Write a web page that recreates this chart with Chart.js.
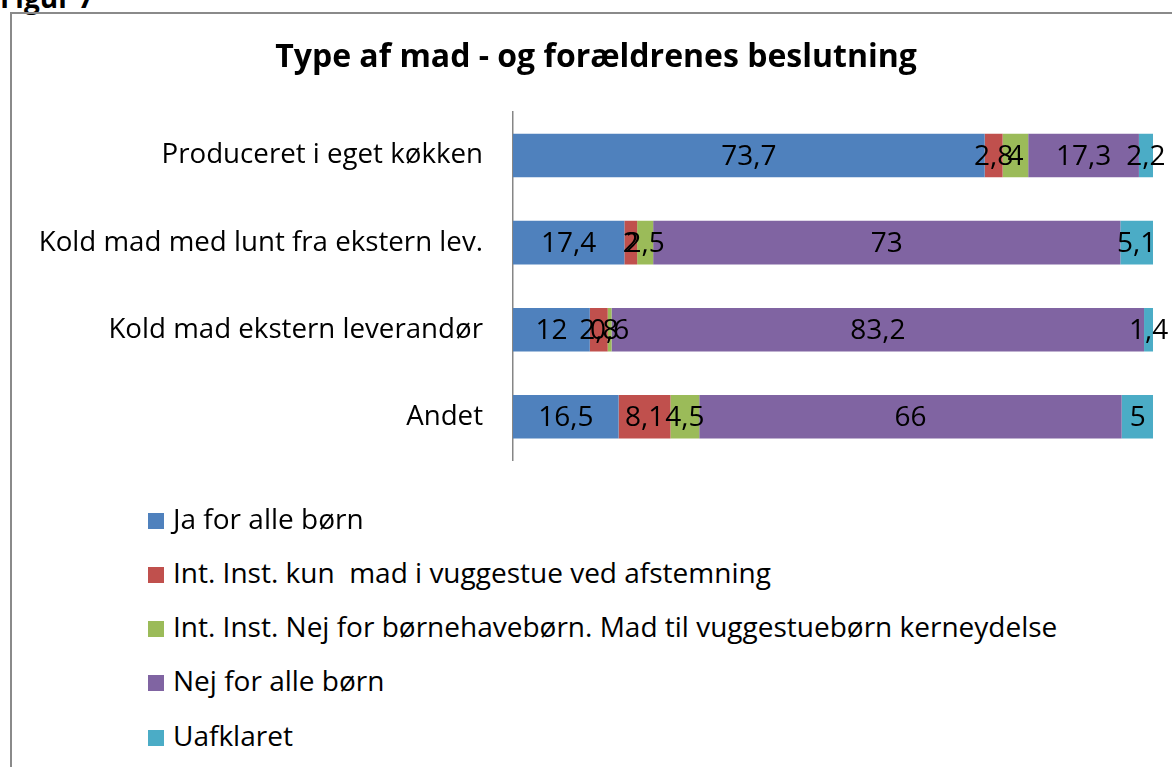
<!DOCTYPE html>
<html>
<head>
<meta charset="utf-8">
<script src="https://cdn.jsdelivr.net/npm/chart.js@4"></script>
<style>
  html, body { margin: 0; padding: 0; background: #fff; overflow: hidden; }
  body { width: 1172px; height: 767px; position: relative; font-family: "Open Sans", sans-serif; }
  #fig { position: absolute; left: 0; top: -17px; font: bold 28px/28px "Open Sans", sans-serif; color: #000; }
  #frame { position: absolute; left: 10px; top: 12px; width: 1200px; height: 800px;
           border-left: 2px solid #8a8a8a; border-top: 2px solid #8a8a8a; }
  #chart { position: absolute; left: 0; top: 0; }
  #legend { position: absolute; left: 148px; top: 0; }
  .item { position: absolute; left: 0; white-space: pre; font-size: 28px; color: #000; height: 34px; line-height: 34px; }
  .box { display: inline-block; width: 16px; height: 16px; margin-right: 9px; vertical-align: 0px; }
</style>
</head>
<body>
<div id="fig">Figur 7</div>
<div id="frame"></div>
<canvas id="chart" width="1172" height="507"></canvas>
<div id="legend"></div>
<script>
const categories = [
  "Produceret i eget køkken",
  "Kold mad med lunt fra ekstern lev.",
  "Kold mad ekstern leverandør",
  "Andet"
];
const seriesNames = [
  "Ja for alle børn",
  "Int. Inst. kun  mad i vuggestue ved afstemning",
  "Int. Inst. Nej for børnehavebørn. Mad til vuggestuebørn kerneydelse",
  "Nej for alle børn",
  "Uafklaret"
];
const jaForAlle = [73.7, 17.4, 12, 16.5];
const kunVuggestue = [2.8, 2, 2.8, 8.1];
const nejBoernehave = [4, 2.5, 0.6, 4.5];
const nejForAlle = [17.3, 73, 83.2, 66];
const uafklaret = [2.2, 5.1, 1.4, 5];
const colors = ["#4F81BD", "#C0504D", "#9BBB59", "#8064A2", "#4BACC6"];

const seriesValues = [jaForAlle, kunVuggestue, nejBoernehave, nejForAlle, uafklaret];

// draws the value in the middle of every bar segment
const valueLabels = {
  id: "valueLabels",
  afterDatasetsDraw(chart) {
    const ctx = chart.ctx;
    ctx.save();
    ctx.font = "28px 'Open Sans', sans-serif";
    ctx.fillStyle = "#000";
    ctx.textAlign = "center";
    ctx.textBaseline = "middle";
    chart.data.datasets.forEach((ds, i) => {
      chart.getDatasetMeta(i).data.forEach((bar, j) => {
        const v = ds.data[j];
        ctx.fillText(String(v).replace(".", ","), (bar.x + bar.base) / 2, bar.y + 1);
      });
    });
    ctx.restore();
  }
};

const chart = new Chart(document.getElementById("chart"), {
  type: "bar",
  data: {
    labels: categories,
    datasets: seriesNames.map((name, i) => ({
      label: name,
      data: seriesValues[i],
      backgroundColor: colors[i],
      borderWidth: 0,
      barPercentage: 0.5,
      categoryPercentage: 1
    }))
  },
  options: {
    indexAxis: "y",
    responsive: false,
    animation: false,
    layout: { padding: { left: 39, right: 19, top: 0, bottom: 0 } },
    plugins: {
      legend: { display: false },
      tooltip: { enabled: false },
      title: {
        display: true,
        text: "Type af mad - og forældrenes beslutning",
        color: "#000",
        font: { family: "'Open Sans', sans-serif", size: 32, weight: "bold", lineHeight: 1.2 },
        padding: { top: 39, bottom: 34.6 }
      }
    },
    scales: {
      x: { stacked: true, min: 0, max: 100, display: false },
      y: {
        stacked: true,
        grid: { display: false, drawTicks: false },
        border: { display: true, color: "#868686", width: 1.5 },
        ticks: {
          color: "#000",
          padding: 30,
          font: { family: "'Open Sans', sans-serif", size: 27.7 }
        },
        afterFit(scale) { scale.width = 474; }
      }
    }
  },
  plugins: [valueLabels]
});

// legend, one entry per line
const legend = document.getElementById("legend");
const legendTops = [501, 555, 609, 663, 718];
chart.data.datasets.forEach((ds, i) => {
  const item = document.createElement("div");
  item.className = "item";
  item.style.top = legendTops[i] + "px";
  item.innerHTML = '<span class="box" style="background:' + ds.backgroundColor + '"></span>';
  item.appendChild(document.createTextNode(ds.label));
  legend.appendChild(item);
});
</script>
</body>
</html>
